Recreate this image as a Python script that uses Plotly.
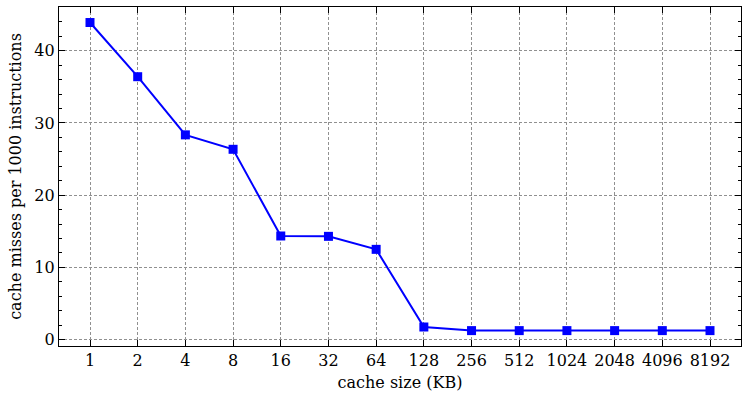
import plotly.graph_objects as go

cache_kb = ["1", "2", "4", "8", "16", "32", "64", "128", "256", "512",
            "1024", "2048", "4096", "8192"]
misses = [43.9, 36.4, 28.35, 26.35, 14.35, 14.3, 12.5, 1.75, 1.25, 1.25,
          1.25, 1.25, 1.25, 1.25]

font = dict(family="DejaVu Serif", size=16, color="black")

fig = go.Figure()
fig.add_trace(go.Scatter(
    x=cache_kb, y=misses,
    mode="lines+markers",
    line=dict(color="#0000ff", width=2),
    marker=dict(symbol="square", size=9, color="#0000ff"),
    showlegend=False,
))

axis_common = dict(
    showline=True, linecolor="black", linewidth=1.2, mirror="ticks",
    ticks="inside", tickcolor="black", tickwidth=1,
    showgrid=True, gridcolor="#909090", griddash="3px,2px", gridwidth=1,
    zeroline=False, tickfont=font,
)

fig.update_xaxes(
    type="category", range=[-0.65, 13.65], ticklen=6,
    title=dict(text="cache size (KB)", font=font, standoff=7),
    **axis_common,
)
fig.update_yaxes(
    range=[-0.88, 46.05], dtick=10, tick0=0, ticklen=6,
    minor=dict(dtick=2, ticks="inside", ticklen=3, tickcolor="black", showgrid=False),
    title=dict(text="cache misses per 1000 instructions", font=font, standoff=8),
    **axis_common,
)

fig.update_layout(
    width=748, height=400,
    margin=dict(l=59, r=7, t=7, b=54, autoexpand=False),
    plot_bgcolor="white", paper_bgcolor="white",
    font=font,
)

# drop the browser's default body margin so the figure sits at the page corner
fig.write_html("out.html", config={"displayModeBar": False},
               post_script="document.body.style.margin='0';")
